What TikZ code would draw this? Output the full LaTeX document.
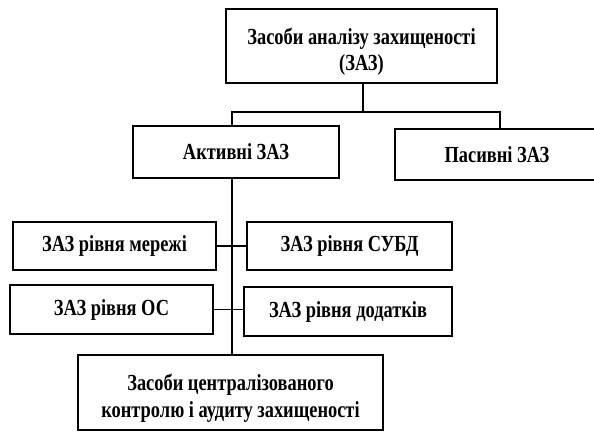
\documentclass[tikz,border=0pt]{standalone}
\usepackage{fontspec}
\setmainfont{Liberation Serif}[FakeStretch=0.8]
\newcommand{\lowstrut}{\rule{0pt}{28pt}}
\begin{document}
\begin{tikzpicture}[x=1pt,y=-1pt,
    box/.style={draw,line width=1.8pt,inner sep=0pt,outer sep=0pt,align=center,
        font=\fontsize{23}{26.5}\selectfont\bfseries},
    link/.style={line width=1.5pt}]
            \useasboundingbox (0,0) rectangle (594,432);
            \node[box,minimum width=271,minimum height=74] (zas) at (361.5,46) {\lowstrut Засоби аналізу захищеності\\(ЗАЗ)};
            \node[box,minimum width=206,minimum height=52] (active) at (236,152) {Активні ЗАЗ};
            \node[box,minimum width=210,minimum height=51] (passive) at (500,154.5) {\hspace*{-6pt}Пасивні ЗАЗ};
            \node[box,minimum width=203,minimum height=48] (net) at (114.5,246) {ЗАЗ рівня мережі};
            \node[box,minimum width=205,minimum height=48] (dbms) at (349.5,246) {ЗАЗ рівня СУБД};
            \node[box,minimum width=203,minimum height=49] (os) at (111.5,309.5) {ЗАЗ рівня ОС};
            \node[box,minimum width=208,minimum height=49] (app) at (348,311.5) {ЗАЗ рівня додатків};
            \node[box,minimum width=305,minimum height=75] (central) at (230.5,392.5) {\lowstrut Засоби централізованого\\контролю і аудиту захищеності};
            % fork under the top box, spine under the active box
            \coordinate (fork) at (363,112);
            \coordinate (spine) at (232,0);
            \draw[link] (zas.south -| fork) -- (fork);
            \draw[link] (active.north -| spine) |- (fork) -| (passive.north);
            \draw[link] (active.south -| spine) -- (central.north -| spine);
            \draw[link] (net.east) -- (dbms.west);
            \draw[link] (os.east) -- (os.east -| app.west);
        \end{tikzpicture}
\end{document}
